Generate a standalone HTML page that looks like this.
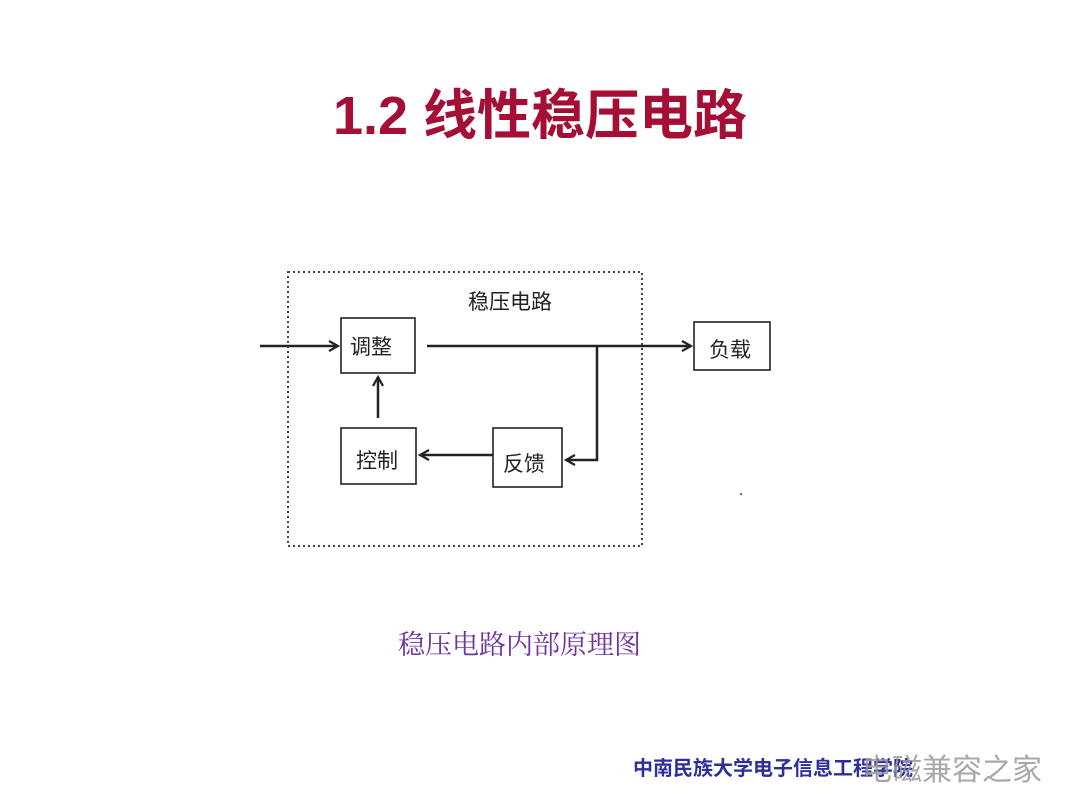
<!DOCTYPE html>
<html><head><meta charset="utf-8"><style>
body{margin:0;width:1080px;height:810px;background:#fff;position:relative;overflow:hidden;font-family:"Liberation Sans","Noto Sans CJK SC",sans-serif}
.t{position:absolute;white-space:nowrap}
</style></head><body>
<div class="t" style="left:0;width:1080px;text-align:center;top:71px;font-size:54px;font-weight:bold;color:#A50F36;">1.2 线性稳压电路</div>
<svg style="position:absolute;left:0;top:0" width="1080" height="810">
<defs><marker id="a" markerWidth="12" markerHeight="12" refX="10" refY="6" orient="auto" markerUnits="userSpaceOnUse"><path d="M1,1 L10,6 L1,11" fill="none" stroke="#222" stroke-width="2.2"/></marker></defs>
<rect x="288" y="272" width="354" height="274" fill="none" stroke="#444" stroke-width="2" stroke-dasharray="2,3"/>
<g fill="#fff" stroke="#222" stroke-width="1.6">
<rect x="341" y="318" width="74" height="55"/>
<rect x="694" y="322" width="76" height="48"/>
<rect x="341" y="428" width="75" height="56"/>
<rect x="493" y="428" width="69" height="59"/>
</g>
<g stroke="#222" stroke-width="2.5" fill="none">
<line x1="260" y1="346" x2="338" y2="346" marker-end="url(#a)"/>
<line x1="427" y1="346" x2="691" y2="346" marker-end="url(#a)"/>
<polyline points="597,346 597,460 566,460" marker-end="url(#a)"/>
<line x1="493" y1="455" x2="420" y2="455" marker-end="url(#a)"/>
<line x1="378" y1="418" x2="378" y2="377" marker-end="url(#a)"/>
</g>
<g font-family="Liberation Sans,Noto Sans CJK SC,sans-serif" font-size="21" fill="#222">
<text x="468" y="309">稳压电路</text>
<text x="350" y="354">调整</text>
<text x="709" y="357">负载</text>
<text x="356" y="468">控制</text>
<text x="503" y="471">反馈</text>
</g>
<circle cx="741" cy="494" r="1" fill="#444"/>
</svg>
<div class="t" style="left:398px;top:623px;font-size:27px;color:#7030A0;font-family:'Liberation Serif','Noto Serif CJK SC',serif">稳压电路内部原理图</div>
<div class="t" style="left:633px;top:752px;font-size:20px;font-weight:bold;color:#2E2E9E">中南民族大学电子信息工程学院</div>
<div class="t" style="left:862px;top:745px;font-size:30px;color:#999;opacity:.85">电磁兼容之家</div>
</body></html>
